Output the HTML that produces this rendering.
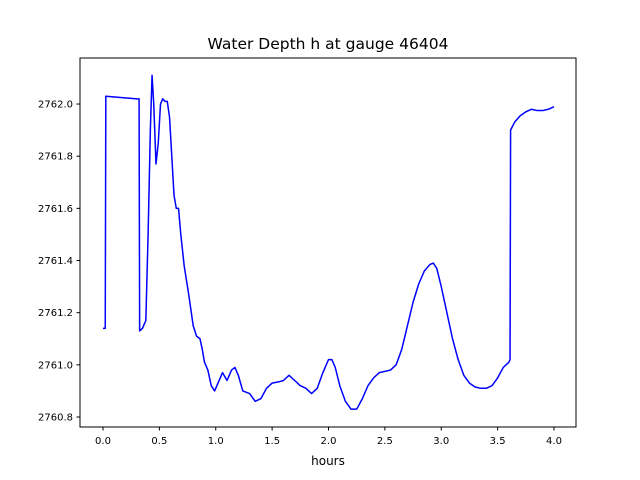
<!DOCTYPE html>
<html><head><meta charset="utf-8"><style>
html,body{margin:0;padding:0;background:#fff;}
svg{display:block;font-family:"DejaVu Sans","Liberation Sans",sans-serif;}
</style></head><body>
<svg id="chart" width="640" height="480" xmlns="http://www.w3.org/2000/svg">
<rect width="640" height="480" fill="#fff"/>
<text x="328" y="49" text-anchor="middle" font-size="15.5">Water Depth h at gauge 46404</text>
<g id="plot"></g>
<rect x="80" y="58" width="496" height="369" fill="none" stroke="#000" stroke-width="1"/>
<text x="328" y="465" text-anchor="middle" font-size="12">hours</text>
</svg>
<script>
const xTicks=[0,0.5,1,1.5,2,2.5,3,3.5,4];
const xTickLabels=["0.0","0.5","1.0","1.5","2.0","2.5","3.0","3.5","4.0"];
const yTicks=[2760.8,2761.0,2761.2,2761.4,2761.6,2761.8,2762.0];
const yTickLabels=["2760.8","2761.0","2761.2","2761.4","2761.6","2761.8","2762.0"];
const hours=[0,0.02,0.025,0.3,0.32,0.325,0.35,0.38,0.40,0.42,0.435,0.45,0.47,0.49,0.51,0.53,0.55,0.57,0.59,0.61,0.63,0.65,0.67,0.69,0.72,0.76,0.80,0.83,0.86,0.88,0.9,0.93,0.96,0.99,1.02,1.06,1.1,1.14,1.17,1.2,1.24,1.3,1.35,1.4,1.45,1.5,1.56,1.6,1.65,1.7,1.75,1.8,1.85,1.9,1.95,2.0,2.03,2.06,2.1,2.15,2.2,2.25,2.3,2.35,2.4,2.45,2.5,2.55,2.6,2.65,2.7,2.75,2.8,2.85,2.9,2.93,2.96,3.0,3.05,3.1,3.15,3.2,3.25,3.3,3.35,3.4,3.45,3.5,3.55,3.6,3.61,3.615,3.65,3.7,3.75,3.8,3.85,3.9,3.95,4.0];
const depth=[2761.14,2761.14,2762.03,2762.02,2762.02,2761.13,2761.14,2761.17,2761.5,2761.9,2762.11,2762.0,2761.77,2761.85,2762.0,2762.02,2762.01,2762.01,2761.95,2761.8,2761.65,2761.6,2761.6,2761.5,2761.38,2761.27,2761.15,2761.11,2761.1,2761.06,2761.01,2760.98,2760.92,2760.9,2760.93,2760.97,2760.94,2760.98,2760.99,2760.96,2760.9,2760.89,2760.86,2760.87,2760.91,2760.93,2760.935,2760.94,2760.96,2760.94,2760.92,2760.91,2760.89,2760.91,2760.97,2761.02,2761.02,2760.99,2760.92,2760.86,2760.83,2760.83,2760.87,2760.92,2760.95,2760.97,2760.975,2760.98,2761.0,2761.06,2761.15,2761.24,2761.31,2761.36,2761.385,2761.39,2761.37,2761.3,2761.2,2761.1,2761.02,2760.96,2760.93,2760.915,2760.91,2760.91,2760.92,2760.95,2760.99,2761.01,2761.02,2761.9,2761.93,2761.955,2761.97,2761.98,2761.975,2761.975,2761.98,2761.99];
const NS="http://www.w3.org/2000/svg";
const X=t=>103+t*112.75;
const Y=v=>417-(v-2760.8)*260.8;
const g=document.getElementById('plot');
function mk(tag,attrs){const e=document.createElementNS(NS,tag);for(const k in attrs)e.setAttribute(k,attrs[k]);g.appendChild(e);return e;}
xTicks.forEach((t,i)=>{
  const l=mk('line',{x1:X(t),x2:X(t),y1:427,y2:430.5,stroke:'#000'});
  
  
  const s=mk('text',{x:X(t),y:444,'text-anchor':'middle','font-size':'10'});
  s.textContent=xTickLabels[i];
  
  
});
yTicks.forEach((v,i)=>{
  const l=mk('line',{x1:76.5,x2:80,y1:Y(v),y2:Y(v),stroke:'#000'});
  
  
  const s=mk('text',{x:73,y:Y(v)+3.5,'text-anchor':'end','font-size':'10'});
  s.textContent=yTickLabels[i];
  
  
});
let d=hours.map((t,i)=>(i?'L':'M')+X(t).toFixed(2)+','+Y(depth[i]).toFixed(2)).join(' ');
const p=mk('path',{d:d,fill:'none',stroke:'#0000ff','stroke-width':'1.5','stroke-linejoin':'round'});


</script>
</body></html>
